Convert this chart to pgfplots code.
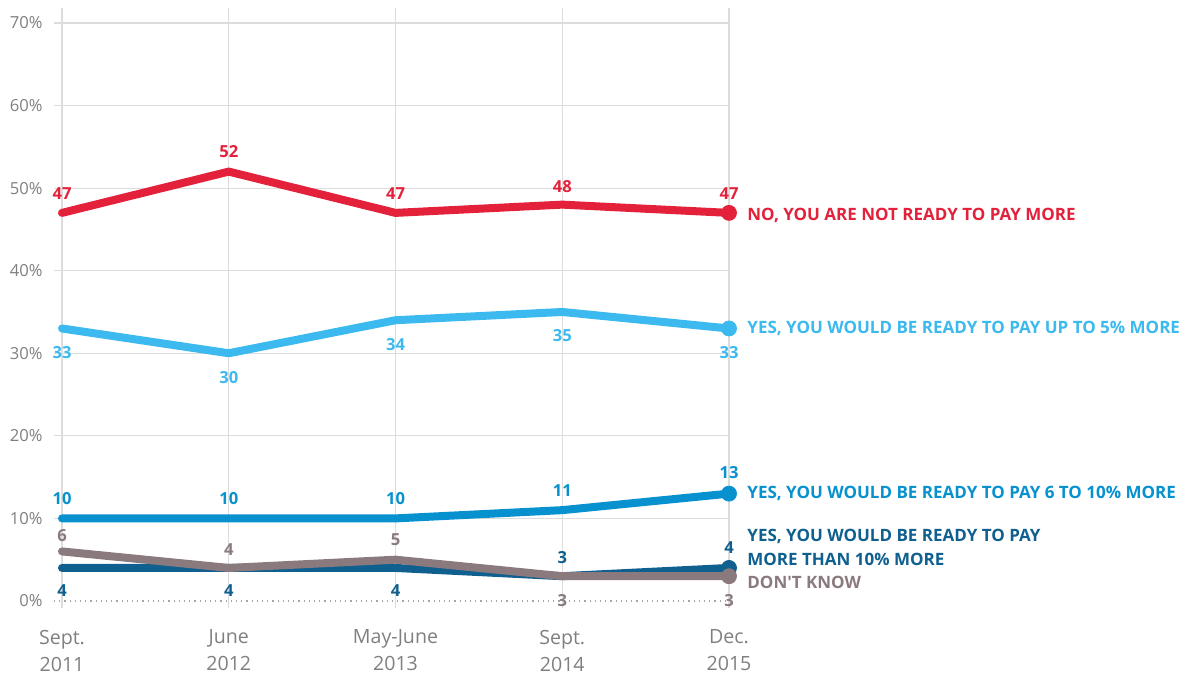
\documentclass[border=0pt]{standalone}
\usepackage{fontspec}
\setmainfont{Open Sans}
\usepackage{pgfplots}
\usepackage{pgfplotstable}
\pgfplotsset{compat=1.18}
\definecolor{cRed}{HTML}{E3213A}
\definecolor{cLight}{HTML}{3CB9EE}
\definecolor{cMid}{HTML}{0791CE}
\definecolor{cDark}{HTML}{0F5F8F}
\definecolor{cGray}{HTML}{8A7A7D}
\definecolor{cTick}{HTML}{7F7F7F}
\definecolor{cGrid}{HTML}{DCDCDC}

\pgfplotstableread{
x y off
0 47 9.5
1 52 10
2 47 9.5
3 48 9
4 47 9.5
}\tRed
\pgfplotstableread{
x y off
0 33 -12
1 30 -12
2 34 -12
3 35 -12
4 33 -12
}\tLight
\pgfplotstableread{
x y off
0 10 10
1 10 10
2 10 10
3 11 10
4 13 10.5
}\tMid
\pgfplotstableread{
x y off
0 4 -11.5
1 4 -11.5
2 4 -11.5
3 3 9.5
4 4 10
}\tDark
\pgfplotstableread{
x y off
0 6 7.75
1 4 9
2 5 10
3 3 -12
4 3 -12
}\tGray

\pgfplotsset{
  lineplot/.style={color=#1, no markers, line width=4pt, line join=round, line cap=round,
    nodes near coords,
    visualization depends on={\thisrow{off} \as \myoff},
    every node near coord/.append style={anchor=center, yshift=\myoff pt,
      font=\bfseries\fontsize{8.3}{9}\selectfont, inner sep=0pt, text=#1}},
  endmark/.style={color=#1, only marks, mark=*, mark size=3.75pt,
    mark options={fill=#1, draw=none}, skip coords between index={0}{4}},
}

\begin{document}
\begin{tikzpicture}
\begin{axis}[
  at={(0,0)}, anchor=south west, scale only axis,
  width=337.5pt, height=300.15pt,
  xmin=-0.048, xmax=4, ymin=-0.9, ymax=71.8,
  clip=false,
  axis line style={draw=none},
  tick style={draw=none},
  grid=major,
  major grid style={draw=cGrid, line width=0.6pt},
  xtick={0,1,2,3,4},
  xticklabels={{Sept.\\2011},{June\\2012},{May-June\\2013},{Sept.\\2014},{Dec.\\2015}},
  xticklabel style={align=center, anchor=north, inner sep=0pt, yshift=-10.5pt,
    font=\fontsize{9.8}{13.5}\selectfont, text=cTick},
  ytick={10,20,...,70},
  extra y ticks={0},
  extra y tick style={major grid style={draw=cTick!70, dotted, line width=0.6pt}},
  yticklabel={\pgfmathprintnumber{\tick}\%},
  yticklabel style={anchor=east, inner sep=0pt, xshift=-5.5pt,
    font=\fontsize{8.3}{9.6}\selectfont, text=cTick},
  /pgf/number format/assume math mode=true,
]
\addplot[lineplot=cRed] table[x=x,y=y] {\tRed};
\addplot[endmark=cRed] table[x=x,y=y] {\tRed};
\addplot[lineplot=cLight] table[x=x,y=y] {\tLight};
\addplot[endmark=cLight] table[x=x,y=y] {\tLight};
\addplot[lineplot=cMid] table[x=x,y=y] {\tMid};
\addplot[endmark=cMid] table[x=x,y=y] {\tMid};
\addplot[lineplot=cDark] table[x=x,y=y] {\tDark};
\addplot[endmark=cDark] table[x=x,y=y] {\tDark};
\addplot[lineplot=cGray] table[x=x,y=y] {\tGray};
\addplot[endmark=cGray] table[x=x,y=y] {\tGray};

\begin{scope}[every node/.style={anchor=west, inner sep=0pt, font=\bfseries\fontsize{8.5}{12}\selectfont}]
\node[text=cRed] at (axis cs:4,47) [xshift=9pt, yshift=-1.5pt] {NO, YOU ARE NOT READY TO PAY MORE};
\node[text=cLight] at (axis cs:4,33) [xshift=9pt] {YES, YOU WOULD BE READY TO PAY UP TO 5\% MORE};
\node[text=cMid] at (axis cs:4,13) [xshift=9pt] {YES, YOU WOULD BE READY TO PAY 6 TO 10\% MORE};
\node[text=cDark, align=left] at (axis cs:4,4) [xshift=9pt, yshift=10.5pt] {YES, YOU WOULD BE READY TO PAY\\MORE THAN 10\% MORE};
\node[text=cGray] at (axis cs:4,3) [xshift=9pt, yshift=-3pt] {DON\textquotesingle T KNOW};
\end{scope}
\end{axis}
\pgfresetboundingbox
\useasboundingbox (-27pt,-33.3pt) rectangle (566pt,304.2pt);
\end{tikzpicture}
\end{document}
